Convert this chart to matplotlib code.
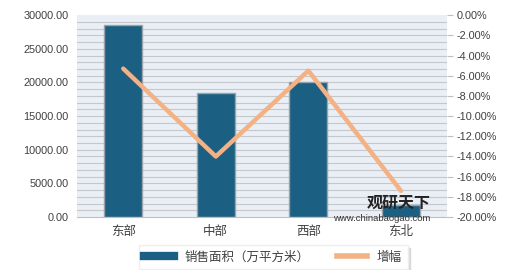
import matplotlib.pyplot as plt
import numpy as np
from matplotlib.ticker import FuncFormatter, MultipleLocator
from matplotlib.lines import Line2D

plt.rcParams['font.family'] = ['Noto Sans CJK SC', 'DejaVu Sans']

regions = ['东部', '中部', '西部', '东北']
sales_area = [28500, 18400, 20000, 1800]
growth = [-5.3, -14.0, -5.5, -17.4]
stripe_levels = np.arange(1000, 30000, 1000)

bar_color = '#1b6083'
line_color = '#f4b183'
num_font = ['Liberation Sans', 'DejaVu Sans']

fig = plt.figure(figsize=(5.2, 2.7), dpi=100)
ax = fig.add_axes([0.148, 0.196, 0.712, 0.748])
ax.set_facecolor('#e9eff5')
for y in stripe_levels:
    ax.axhline(y, color='#c4c8cc', linewidth=0.8, zorder=0)

x = np.arange(len(regions))
ax.bar(x, sales_area, width=0.41, color=bar_color, edgecolor='#9aa3aa',
       linewidth=1.0, zorder=2)
ax.set_ylim(0, 30000)
ax.set_xlim(-0.5, 3.5)
ax.yaxis.set_major_locator(MultipleLocator(5000))
ax.yaxis.set_major_formatter(FuncFormatter(lambda v, p: f'{v:.2f}'))
ax.set_xticks(x)
ax.set_xticklabels(regions, fontsize=9, color='#404040')
ax.tick_params(axis='both', length=0, pad=6)
for lab in ax.get_yticklabels():
    lab.set_family(num_font)
    lab.set_fontsize(7.8)
    lab.set_color('#404040')
for s in ['top', 'right', 'left']:
    ax.spines[s].set_visible(False)
ax.spines['bottom'].set_color('#bfbfbf')

ax2 = ax.twinx()
ax2.plot(x, growth, color=line_color, linewidth=3.2, solid_capstyle='round',
         zorder=3)
ax2.set_ylim(-20, 0)
ax2.yaxis.set_major_locator(MultipleLocator(2))
ax2.yaxis.set_major_formatter(FuncFormatter(lambda v, p: f'{v:.2f}%'))
ax2.tick_params(axis='y', length=4, color='#bfbfbf', pad=3)
for lab in ax2.get_yticklabels():
    lab.set_family(num_font)
    lab.set_fontsize(7.8)
    lab.set_color('#404040')
for s in ax2.spines.values():
    s.set_visible(False)

# watermark
fig.text(0.706, 0.230, '观研天下', fontsize=11.5, fontweight='bold', color='#222222')
fig.text(0.640, 0.183, 'www.chinabaogao.com', fontsize=6.8, color='#333333',
         family=num_font)

handles = [Line2D([], [], color=bar_color, linewidth=6),
           Line2D([], [], color=line_color, linewidth=4)]
labels = ['销售面积（万平方米）', '增幅']
leg = fig.legend(handles, labels, loc='lower left', bbox_to_anchor=(0.255, -0.02),
                 ncol=2, fontsize=9, frameon=True, fancybox=False,
                 shadow={'color': '#d8d8d8', 'alpha': 1.0},
                 handlelength=2.4, columnspacing=2.2, borderpad=0.45)
leg.get_frame().set_edgecolor('#eeeeee')
for t in leg.get_texts():
    t.set_color('#404040')

fig.savefig('out.png', dpi=100)
